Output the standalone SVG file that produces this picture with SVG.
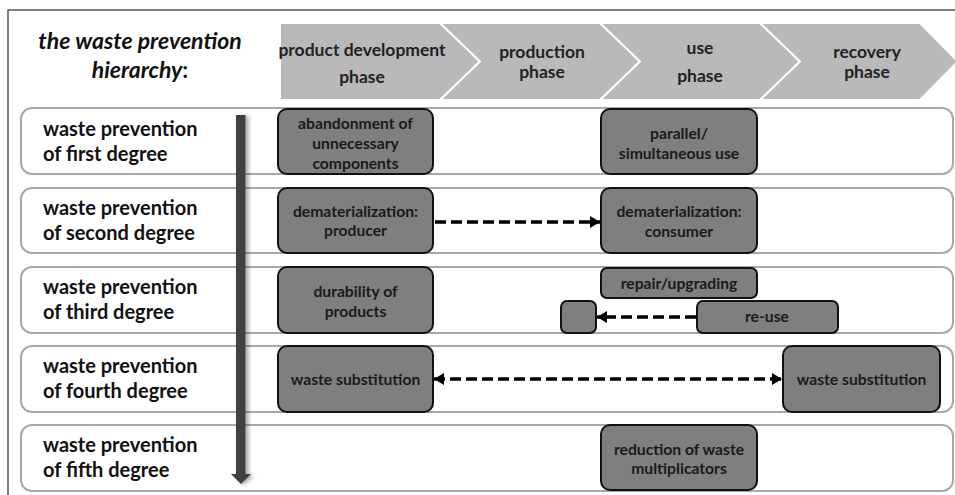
<svg xmlns="http://www.w3.org/2000/svg" width="955" height="495" viewBox="0 0 955 495">
  <style>
    .frame { fill: none; stroke: #555; stroke-width: 1.5; }
    .chev { fill: #b9b9b9; stroke: #ffffff; stroke-width: 2; stroke-linejoin: miter; }
    .chevtxt { font-family: "Lato", "Open Sans", sans-serif; font-weight: bold; font-size: 17.5px; fill: #222; text-anchor: middle; }
    .title { font-family: "Lato", "Open Sans", sans-serif; font-weight: bold; font-size: 23px; fill: #111; text-anchor: middle; }
    .band { fill: #ffffff; stroke: #a8a8a8; stroke-width: 2; }
    .lbl { font-family: "Lato", "Open Sans", sans-serif; font-weight: bold; font-size: 20px; fill: #111; }
    .box { fill: #7f7f7f; stroke: #111; stroke-width: 2; }
    .btxt { font-family: "Lato", "Open Sans", sans-serif; font-weight: bold; font-size: 15.7px; fill: #1a1a1a; text-anchor: middle; }
    .dash { fill: none; stroke: #000; stroke-width: 3.5; stroke-dasharray: 11 5; }
  </style>
  <defs>
    <marker id="head" viewBox="0 0 10 12" refX="10" refY="6" markerWidth="3" markerHeight="3.5" orient="auto-start-reverse" markerUnits="strokeWidth">
      <path d="M0,0 L10,6 L0,12 Z" fill="#000"/>
    </marker>
    <filter id="soft" x="-50%" y="-5%" width="220%" height="110%">
      <feDropShadow dx="3" dy="1" stdDeviation="2" flood-color="#000" flood-opacity="0.35"/>
    </filter>
  </defs>

  <!-- outer frame -->
  <path class="frame" d="M8,495 L8,10 L955,10"/>

  <!-- title -->
  <g id="title">
    <text class="title" x="140" y="49" font-style="italic">the waste prevention</text>
    <text class="title" x="140" y="78"><tspan font-style="italic">hierarchy</tspan>:</text>
  </g>

  <!-- phase chevrons -->
  <g id="phase-product-development">
    <path class="chev" d="M280,23 L440,23 L480,61.5 L440,100 L280,100 Z"/>
    <text class="chevtxt" x="362" y="56">product development</text>
    <text class="chevtxt" x="362" y="83">phase</text>
  </g>
  <g id="phase-production">
    <path class="chev" d="M440,23 L600,23 L640,61.5 L600,100 L440,100 L480,61.5 Z"/>
    <text class="chevtxt" x="542" y="58">production</text>
    <text class="chevtxt" x="542" y="78">phase</text>
  </g>
  <g id="phase-use">
    <path class="chev" d="M600,23 L760,23 L800,61.5 L760,100 L600,100 L640,61.5 Z"/>
    <text class="chevtxt" x="700" y="54">use</text>
    <text class="chevtxt" x="700" y="82">phase</text>
  </g>
  <g id="phase-recovery">
    <path class="chev" d="M760,23 L920,23 L958,61.5 L920,100 L760,100 L800,61.5 Z"/>
    <text class="chevtxt" x="867" y="58">recovery</text>
    <text class="chevtxt" x="867" y="78">phase</text>
  </g>

  <!-- degree bands -->
  <g id="degree-1">
    <rect class="band" x="21" y="108" width="932" height="66" rx="11"/>
    <text class="lbl" x="43" y="136">waste prevention</text>
    <text class="lbl" x="43" y="161">of first degree</text>
  </g>
  <g id="degree-2">
    <rect class="band" x="21" y="188" width="932" height="65" rx="11"/>
    <text class="lbl" x="43" y="215">waste prevention</text>
    <text class="lbl" x="43" y="240">of second degree</text>
  </g>
  <g id="degree-3">
    <rect class="band" x="21" y="267" width="932" height="66" rx="11"/>
    <text class="lbl" x="43" y="294">waste prevention</text>
    <text class="lbl" x="43" y="319">of third degree</text>
  </g>
  <g id="degree-4">
    <rect class="band" x="21" y="346" width="932" height="66" rx="11"/>
    <text class="lbl" x="43" y="373">waste prevention</text>
    <text class="lbl" x="43" y="398">of fourth degree</text>
  </g>
  <g id="degree-5">
    <rect class="band" x="21" y="425" width="932" height="66" rx="11"/>
    <text class="lbl" x="43" y="452">waste prevention</text>
    <text class="lbl" x="43" y="477">of fifth degree</text>
  </g>

  <!-- hierarchy arrow -->
  <g id="hierarchy-arrow" filter="url(#soft)">
    <path d="M236,115 L245.5,115 L245.5,474 L251,474 L241,484 L231,474 L236,474 Z" fill="#404040"/>
  </g>

  <!-- measures -->
  <g id="abandonment">
    <rect class="box" x="278" y="109" width="155" height="65" rx="9"/>
    <text class="btxt" x="355.5" y="129">abandonment of</text>
    <text class="btxt" x="355.5" y="149">unnecessary</text>
    <text class="btxt" x="355.5" y="169">components</text>
  </g>
  <g id="parallel-use">
    <rect class="box" x="601" y="109" width="156" height="65" rx="9"/>
    <text class="btxt" x="679" y="139">parallel/</text>
    <text class="btxt" x="679" y="159">simultaneous use</text>
  </g>
  <g id="dematerialization-producer">
    <rect class="box" x="278" y="188" width="155" height="65" rx="9"/>
    <text class="btxt" x="355.5" y="217">dematerialization:</text>
    <text class="btxt" x="355.5" y="236">producer</text>
  </g>
  <g id="dematerialization-consumer">
    <rect class="box" x="601" y="188" width="156" height="65" rx="9"/>
    <text class="btxt" x="679" y="217">dematerialization:</text>
    <text class="btxt" x="679" y="237">consumer</text>
  </g>
  <g id="durability">
    <rect class="box" x="278" y="267" width="155" height="66" rx="9"/>
    <text class="btxt" x="355.5" y="297">durability of</text>
    <text class="btxt" x="355.5" y="317">products</text>
  </g>
  <g id="repair-upgrading">
    <rect class="box" x="601" y="268" width="156" height="30" rx="6"/>
    <text class="btxt" x="679" y="289">repair/upgrading</text>
  </g>
  <g id="re-use">
    <rect class="box" x="697" y="301" width="141" height="32" rx="6"/>
    <text class="btxt" x="767" y="322">re-use</text>
  </g>
  <g id="re-use-target">
    <rect class="box" x="561" y="301" width="35" height="32" rx="6"/>
  </g>
  <g id="waste-substitution-1">
    <rect class="box" x="278" y="346" width="155" height="66" rx="9"/>
    <text class="btxt" x="355.5" y="385">waste substitution</text>
  </g>
  <g id="waste-substitution-2">
    <rect class="box" x="783" y="346" width="157" height="66" rx="9"/>
    <text class="btxt" x="861.5" y="385">waste substitution</text>
  </g>
  <g id="waste-multiplicators">
    <rect class="box" x="601" y="425" width="156" height="65" rx="9"/>
    <text class="btxt" x="679" y="455">reduction of waste</text>
    <text class="btxt" x="679" y="474">multiplicators</text>
  </g>

  <!-- connectors -->
  <g id="connectors">
    <path class="dash" d="M435,222 L600,222" marker-end="url(#head)"/>
    <path class="dash" d="M696,317 L597,317" marker-end="url(#head)"/>
    <path class="dash" d="M434,379 L782,379" marker-start="url(#head)" marker-end="url(#head)"/>
  </g>
</svg>
